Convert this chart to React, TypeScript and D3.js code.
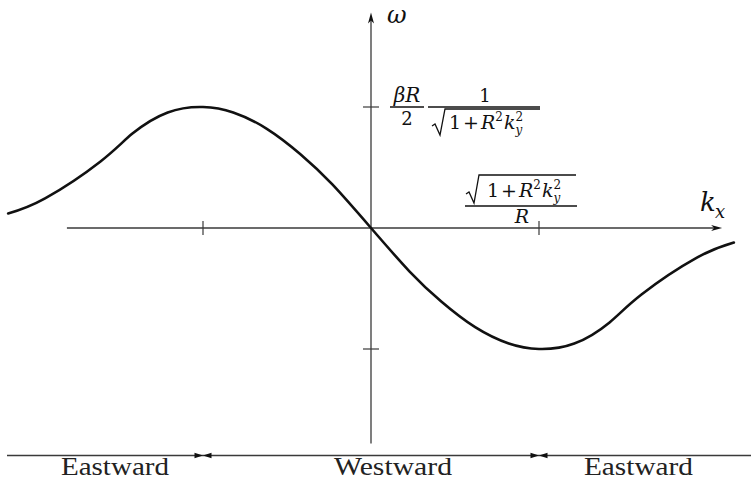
import React from "react";
import * as d3 from "d3";

// Dispersion curve ω(k_x), in units of the tick values (k0 and ω_max)
const kValues = [-2.16, -1.94, -1.61, -1.42, -1.21, -1.0, -0.82, -0.62, -0.42, -0.23, 0, 0.23, 0.42, 0.62, 0.82, 1.0, 1.21, 1.42, 1.61, 1.94, 2.16];
const omegaValues = [0.12, 0.245, 0.55, 0.78, 0.955, 1.0, 0.955, 0.82, 0.61, 0.36, 0, -0.36, -0.61, -0.82, -0.955, -1.0, -0.955, -0.78, -0.55, -0.245, -0.12];

// Tick positions on each axis
const kTicks = [-1, 1];
const omegaTicks = [-1, 1];

// Propagation regions along the k_x axis
const regionNames = ["Eastward", "Westward", "Eastward"];
const regionCenters = [-1.524, 0.131, 1.592];
const regionWidths = [108, 118, 109];
const regionBoundaries = [-1, 1];

const W = 751;
const H = 480;

const textFont = "'Liberation Serif', 'Times New Roman', serif";
const mathFont = "'DejaVu Serif', serif";

// √(1+R²k_y²) with its radical starting at x0 and overline ending at x1
function RootTerm({ x0, x1, base, top, inset }: { x0: number; x1: number; base: number; top: number; inset: number }) {
  return (
    <g fill="#111" fontFamily={mathFont}>
      <path
        d={`M${x0},${base - 3} L${x0 + 3},${base - 5} L${x0 + 8},${base + 6} L${x0 + 13},${top} L${x1},${top}`}
        fill="none"
        stroke="#111"
        strokeWidth={1.3}
      />
      <text x={x0 + inset} y={base} fontSize={19}>
        1<tspan dx={2}>+</tspan>
        <tspan dx={2} fontStyle="italic">R</tspan>
        <tspan dy={-8} fontSize={12}>2</tspan>
        <tspan dy={8} dx={1} fontStyle="italic">k</tspan>
        <tspan dy={-8} fontSize={12}>2</tspan>
        <tspan dx={-7.6} dy={13} fontSize={12} fontStyle="italic">y</tspan>
      </text>
    </g>
  );
}

export default function App() {
  const x = d3.scaleLinear().domain([-1, 1]).range([203, 539]);
  const y = d3.scaleLinear().domain([-1, 1]).range([349, 107]);

  const line = d3
    .line<number>()
    .x((_, i) => x(kValues[i]))
    .y((d) => y(d))
    .curve(d3.curveNatural);

  const axisY = y(0);
  const axisX = x(0);
  const hStart = x(-1.81);
  const hEnd = x(2.09);
  const vTop = y(1.78);
  const vBottom = y(-1.78);
  const bandY = 455.5;

  const axisColor = "#3a3a3a";

  return (
    <svg
      width={W}
      height={H}
      viewBox={`0 0 ${W} ${H}`}
      style={{ position: "absolute", left: 0, top: 0, background: "#fff" }}
    >
      {/* horizontal axis with arrow */}
      <line x1={hStart} y1={axisY} x2={hEnd - 6} y2={axisY} stroke={axisColor} strokeWidth={1.3} />
      <path
        d={`M${hEnd},${axisY} L${hEnd - 11},${axisY - 3} L${hEnd - 8},${axisY} L${hEnd - 11},${axisY + 3} Z`}
        fill="#111"
      />
      {/* vertical axis with arrow */}
      <line x1={axisX} y1={vBottom} x2={axisX} y2={vTop + 6} stroke={axisColor} strokeWidth={1.3} />
      <path
        d={`M${axisX},${vTop} L${axisX - 3},${vTop + 11} L${axisX},${vTop + 8} L${axisX + 3},${vTop + 11} Z`}
        fill="#111"
      />

      {/* ticks */}
      {kTicks.map((t) => (
        <line key={`kt${t}`} x1={x(t)} x2={x(t)} y1={axisY - 7} y2={axisY + 7} stroke={axisColor} strokeWidth={1.2} />
      ))}
      {omegaTicks.map((t) => (
        <line key={`ot${t}`} x1={axisX - 8} x2={axisX + 8} y1={y(t)} y2={y(t)} stroke={axisColor} strokeWidth={1.2} />
      ))}

      {/* dispersion curve */}
      <path d={line(omegaValues) ?? ""} fill="none" stroke="#111" strokeWidth={2.6} strokeLinecap="round" />

      {/* axis labels */}
      <text x={387} y={23} fontSize={24} fontStyle="italic" fontFamily={mathFont} fill="#111">ω</text>
      <text x={700} y={211} fontSize={26} fontStyle="italic" fontFamily={mathFont} fill="#111">k</text>
      <text x={715} y={218} fontSize={18} fontStyle="italic" fontFamily={mathFont} fill="#111">x</text>

      {/* ω tick label: (βR/2) · 1/√(1+R²k_y²) */}
      <g fontFamily={mathFont} fill="#111">
        <text x={407} y={102} fontSize={20} fontStyle="italic" textAnchor="middle">βR</text>
        <line x1={390} x2={424} y1={y(1)} y2={y(1)} stroke="#111" strokeWidth={1.5} />
        <text x={407} y={125} fontSize={18} textAnchor="middle">2</text>
        <text x={485} y={102} fontSize={18} textAnchor="middle">1</text>
        <line x1={428} x2={540} y1={y(1)} y2={y(1)} stroke="#111" strokeWidth={1.6} />
      </g>
      <RootTerm x0={432} x1={540} base={129} top={109} inset={17} />

      {/* k tick label: √(1+R²k_y²)/R */}
      <RootTerm x0={466} x1={576} base={197} top={175} inset={21} />
      <line x1={465} x2={577} y1={206} y2={206} stroke="#111" strokeWidth={1.5} />
      <text x={522} y={223} fontSize={19} fontStyle="italic" fontFamily={mathFont} textAnchor="middle" fill="#111">R</text>

      {/* region band */}
      <line x1={7} x2={W} y1={bandY} y2={bandY} stroke={axisColor} strokeWidth={1.3} />
      {regionBoundaries.map((b) => {
        const cx = x(b);
        return (
          <g key={`rb${b}`} fill="#111">
            <path d={`M${cx - 8.5},${bandY - 2.8} L${cx},${bandY} L${cx - 8.5},${bandY + 2.8} Z`} />
            <path d={`M${cx + 8.5},${bandY - 2.8} L${cx},${bandY} L${cx + 8.5},${bandY + 2.8} Z`} />
          </g>
        );
      })}
      {regionNames.map((name, i) => (
        <text
          key={`rn${i}`}
          x={x(regionCenters[i]) - regionWidths[i] / 2}
          y={475}
          fontSize={25}
          fontFamily={textFont}
          fill="#222"
          textLength={regionWidths[i]}
          lengthAdjust="spacingAndGlyphs"
        >
          {name}
        </text>
      ))}
    </svg>
  );
}
